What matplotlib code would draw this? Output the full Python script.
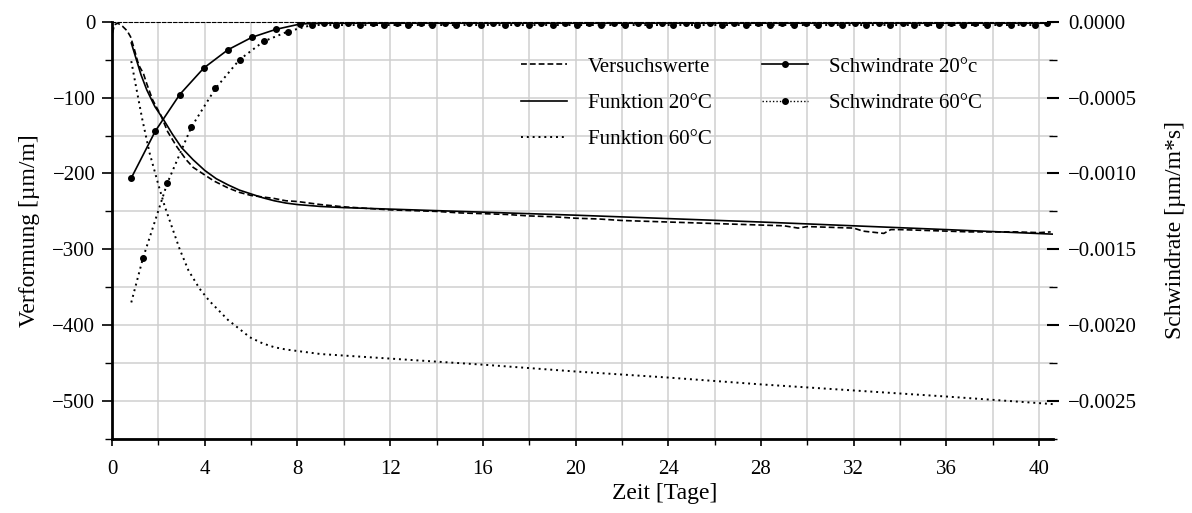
import matplotlib
matplotlib.use("Agg")
import matplotlib.pyplot as plt
from matplotlib.ticker import MultipleLocator, FuncFormatter
from matplotlib.lines import Line2D

plt.rcParams['font.family'] = ['Liberation Serif', 'DejaVu Serif']
plt.rcParams['font.size'] = 15

# --- data ---------------------------------------------------------------
versuch_t = [0.02, 0.1, 0.25, 0.45, 0.65, 0.8, 0.95, 1.1, 1.2, 1.35, 1.5, 1.75,
             2.1, 2.4, 2.8, 3.2, 3.5, 3.9, 4.4, 5.0, 5.5, 6.0, 6.5, 7.0, 7.5, 8.0,
             9, 10, 11, 12, 13, 14, 15, 16, 17, 18, 19, 20, 21, 22, 23, 24, 25,
             26, 27, 28, 29, 29.6, 30, 31, 32, 32.4, 33, 33.3, 33.6, 34, 35, 36,
             37, 38, 39, 40, 40.5]
versuch_eps = [-15, -4, -2, -6, -12, -20, -35, -52, -60, -68, -82, -103,
               -123, -145, -165, -182, -192, -200, -210, -219, -225, -229, -231, -233, -236, -237,
               -241, -244, -246, -248, -249, -250, -252, -253, -254, -256, -257, -259, -260,
               -262, -263, -264, -265, -266, -267, -268, -269, -272, -270, -271, -272, -276,
               -278, -279, -274, -274, -275, -276, -277, -277, -277, -278, -277]

f20_t = [0.83, 1.0, 1.25, 1.5, 1.85, 2.2, 2.6, 3.0, 3.5, 4.0, 4.5, 5.0, 5.5, 6.0,
         6.5, 7.0, 7.5, 8.0, 9, 10, 12, 16, 20, 24, 28, 32, 36, 40.6]
f20_eps = [-28, -45, -70, -90, -112, -128, -148, -166, -182, -196, -207, -215, -222,
           -227, -232, -236, -239, -241, -243.5, -245, -247, -251, -255, -259.5, -264,
           -269, -274, -280]

f60_t = [0.83, 1.0, 1.3, 1.62, 2.0, 2.27, 2.6, 2.92, 3.3, 3.78, 4.2, 4.65, 5.0, 5.5,
         5.95, 6.5, 7.0, 7.5, 8.0, 9, 10, 12, 16, 20, 24, 28, 32, 36, 40.6]
f60_eps = [-52, -80, -128, -173, -215, -243, -272, -300, -328, -352, -368, -382, -393,
           -405, -416, -424, -429, -432, -434, -438, -440, -444, -452, -461, -469, -478,
           -486, -494, -504]

r20_t = [0.83, 1.87, 2.92, 3.96, 5.00, 6.04, 7.08, 8.12, 9.16, 10.20, 11.24, 12.28,
         13.32, 14.36, 15.40, 16.44, 17.48, 18.52, 19.56, 20.60, 21.64, 22.68, 23.72,
         24.76, 25.80, 26.84, 27.88, 28.92, 29.96, 31.00, 32.04, 33.08, 34.12, 35.16,
         36.20, 37.24, 38.28, 39.32, 40.36]
r20_val = [-0.00103, -0.00072, -0.00048, -0.000305, -0.000185, -0.0001025, -0.00005,
           -0.000015, -0.00001, -0.00001, -0.00001, -0.00001, -0.00001, -0.00001,
           -0.00001, -0.00001, -0.00001, -0.00001, -0.00001, -0.00001, -0.00001,
           -0.00001, -0.00001, -0.00001, -0.00001, -0.00001, -0.00001, -0.00001,
           -0.00001, -0.00001, -0.00001, -0.00001, -0.00001, -0.00001, -0.00001,
           -0.00001, -0.00001, -0.00001, -0.00001]

r60_t = [0.83, 1.33, 2.38, 3.42, 4.46, 5.50, 6.54, 7.58, 8.62, 9.66, 10.70, 11.74,
         12.78, 13.82, 14.86, 15.90, 16.94, 17.98, 19.02, 20.06, 21.10, 22.14, 23.18,
         24.22, 25.26, 26.30, 27.34, 28.38, 29.42, 30.46, 31.50, 32.54, 33.58, 34.62,
         35.66, 36.70, 37.74, 38.78, 39.82]
r60_val = [-0.00185, -0.00156, -0.001065, -0.000695, -0.00044, -0.00025, -0.00013,
           -0.000065, -0.000022, -0.000022, -0.000022, -0.000022, -0.000022, -0.000022,
           -0.000022, -0.000022, -0.000022, -0.000022, -0.000022, -0.000022, -0.000022,
           -0.000022, -0.000022, -0.000022, -0.000022, -0.000022, -0.000022, -0.000022,
           -0.000022, -0.000022, -0.000022, -0.000022, -0.000022, -0.000022, -0.000022,
           -0.000022, -0.000022, -0.000022, -0.000022]

left_ticks = [0, -100, -200, -300, -400, -500]
right_ticks = [0.0, -0.0005, -0.0010, -0.0015, -0.0020, -0.0025]
x_ticks = [0, 4, 8, 12, 16, 20, 24, 28, 32, 36, 40]

# --- figure -------------------------------------------------------------
fig = plt.figure(figsize=(11.92, 5.13), dpi=100)
ax = fig.add_axes([0.094, 0.1442, 0.7894, 0.8135])
ax2 = ax.twinx()

grid_c = '#cfcfcf'
ax.set_xlim(0, 40.6)
ax.set_ylim(-550, 0)
ax2.set_ylim(-0.00275, 0)

ax.set_xticks(x_ticks)
ax.xaxis.set_minor_locator(MultipleLocator(2))
ax.set_yticks(left_ticks)
ax.yaxis.set_minor_locator(MultipleLocator(50))
ax.yaxis.set_major_formatter(FuncFormatter(lambda v, p: f"{v:.0f}".replace('-', '\u2212')))
ax.grid(True, which='both', color=grid_c, linewidth=1.1)
ax.set_axisbelow(True)

ax2.set_yticks(right_ticks)
ax2.yaxis.set_minor_locator(MultipleLocator(0.00025))
ax2.yaxis.set_major_formatter(FuncFormatter(
    lambda v, p: ("0.0000" if abs(v) < 1e-9 else f"{v:.4f}".replace('-', '\u2212'))))

ax.spines['right'].set_visible(False)
for s in ['right', 'left', 'bottom', 'top']:
    ax2.spines[s].set_visible(False)
ax.spines['left'].set_linewidth(2.0)
ax.spines['bottom'].set_linewidth(2.0)
ax.spines['top'].set_linewidth(0.8)
ax.spines['top'].set_linestyle((0, (3, 2)))

ax.tick_params(axis='y', which='major', direction='out', length=7, width=1.2, pad=5)
ax.tick_params(axis='y', which='minor', direction='out', length=5, width=1.0)
ax.tick_params(axis='x', which='major', direction='out', length=5, width=1.2, pad=10)
ax.tick_params(axis='x', which='minor', direction='out', length=4, width=1.0)
ax.tick_params(top=False, which='both')
ax2.tick_params(axis='y', which='major', direction='inout', length=8, width=1.5, pad=7)
ax2.tick_params(axis='y', which='minor', direction='inout', length=6, width=1.0)

# --- series -------------------------------------------------------------
lw = 1.2
l1, = ax.plot(versuch_t, versuch_eps, color='black', linestyle=(0, (3.5, 1.8)), lw=lw,
              label='Versuchswerte')
l2, = ax.plot(f20_t, f20_eps, color='black', linestyle='-', lw=lw, label='Funktion 20°C')
l3, = ax.plot(f60_t, f60_eps, color='black', linestyle=(0, (1, 2)), lw=1.4,
              label='Funktion 60°C')
l4, = ax2.plot(r20_t, r20_val, color='black', linestyle='-', lw=lw, marker='o',
               markersize=4, label='Schwindrate 20°c')
l5, = ax2.plot(r60_t, r60_val, color='black', linestyle=(0, (1, 2)), lw=1.4, marker='o',
               markersize=4, markevery=slice(1, None), label='Schwindrate 60°C')

ax.set_xlabel('Zeit [Tage]', fontsize=17)
ax.xaxis.set_label_coords((665 - 112.5) / 941.0, -0.106)
ax.set_ylabel('Verformung [µm/m]', fontsize=17, labelpad=9)
ax2.set_ylabel('Schwindrate [µm/m*s]', fontsize=17, labelpad=20)

handles = [l1, l2, l3, l4, l5]
h4 = Line2D([], [], color='black', lw=lw, marker='o', markersize=4)
h5 = Line2D([], [], color='black', lw=1.0, linestyle=(0, (1, 1.5)), marker='o', markersize=4)
leg = ax2.legend([l1, l2, l3, h4, h5], [h.get_label() for h in handles],
                 ncol=2, frameon=False, loc='upper left',
                 bbox_to_anchor=(0.415, 0.96), handlelength=2.2, handletextpad=1.0,
                 columnspacing=2.43, labelspacing=0.8)

fig.savefig('out.png', dpi=100)
